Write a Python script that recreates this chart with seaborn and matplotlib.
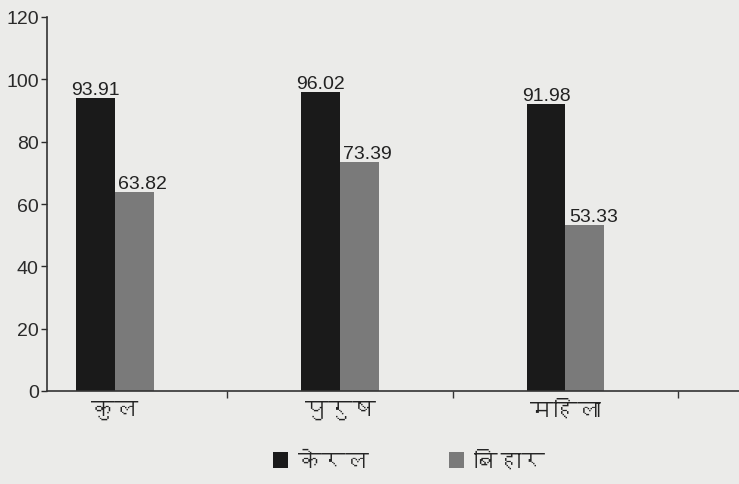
import matplotlib
matplotlib.use("Agg")
import matplotlib.pyplot as plt
from matplotlib import font_manager
from matplotlib.ft2font import FT2Font
from matplotlib.patches import Patch
import pandas as pd
import seaborn as sns

categories = ["कुल", "पुरुष", "महिला"]
states = ["केरल", "बिहार"]
kerala = [93.91, 96.02, 91.98]
bihar = [63.82, 73.39, 53.33]
y_ticks = [0, 20, 40, 60, 80, 100, 120]


def find_devanagari_font():
    """Look for an installed font that has Devanagari glyphs."""
    for f in font_manager.fontManager.ttflist:
        try:
            cmap = FT2Font(f.fname).get_charmap()
        except Exception:
            continue
        if 0x0915 in cmap and 0x093F in cmap:
            return f.name
    return None


sns.set_style("ticks")
deva = find_devanagari_font()
families = ([deva] if deva else []) + ["DejaVu Sans"]
plt.rcParams["font.family"] = ["Liberation Sans", "DejaVu Sans"]

df = pd.DataFrame({
    "cat": categories * 2,
    "state": [states[0]] * 3 + [states[1]] * 3,
    "val": kerala + bihar,
})

bg = "#ebebe9"
colors = {"केरल": "#1a1a1a", "बिहार": "#7a7a7a"}

fig = plt.figure(figsize=(7.39, 4.85), dpi=100, facecolor=bg)
ax = fig.add_axes([47 / 739, 1 - 392 / 485, 1 - 47 / 739, (392 - 18) / 485])
ax.set_facecolor(bg)

sns.barplot(data=df, x="cat", y="val", hue="state", palette=colors,
            width=0.345, gap=0, dodge=True, legend=False, ax=ax,
            edgecolor="none", saturation=1)

# value labels; the Bihar ones sit a little to the right in the original
for i, cont in enumerate(ax.containers):
    labels = ax.bar_label(cont, fmt="%.2f", padding=0, fontsize=14, color="#222222")
    if i == 1:
        for t in labels:
            t.xyann = (6, 0)

ax.set_xlim(-0.3, 2.77)
ax.set_ylim(0, 120)
ax.set_yticks(y_ticks)
ax.tick_params(axis="y", labelsize=14, colors="#2a2a2a", length=4, width=1, pad=2)
ax.set_xticks(range(len(categories)))
ax.set_xticklabels(categories, family=families, fontsize=17, color="#222222")
ax.tick_params(axis="x", which="major", length=0, pad=6)
ax.set_xticks([0.5, 1.5, 2.5], minor=True)
ax.tick_params(axis="x", which="minor", length=5, width=1, color="#333333")
ax.set_xlabel("")
ax.set_ylabel("")
for s in ["top", "right"]:
    ax.spines[s].set_visible(False)
for s in ["left", "bottom"]:
    ax.spines[s].set_color("#333333")
    ax.spines[s].set_linewidth(1.2)

handles = [Patch(facecolor=colors[s], edgecolor="none") for s in states]
fig.legend(handles, states, loc="center", bbox_to_anchor=(0.553, 1 - 462 / 485),
           ncol=2, frameon=False, handlelength=0.65, handleheight=0.65,
           columnspacing=3.4, handletextpad=0.4,
           prop={"family": families, "size": 17})

fig.savefig("out.png", dpi=100, facecolor=bg)
